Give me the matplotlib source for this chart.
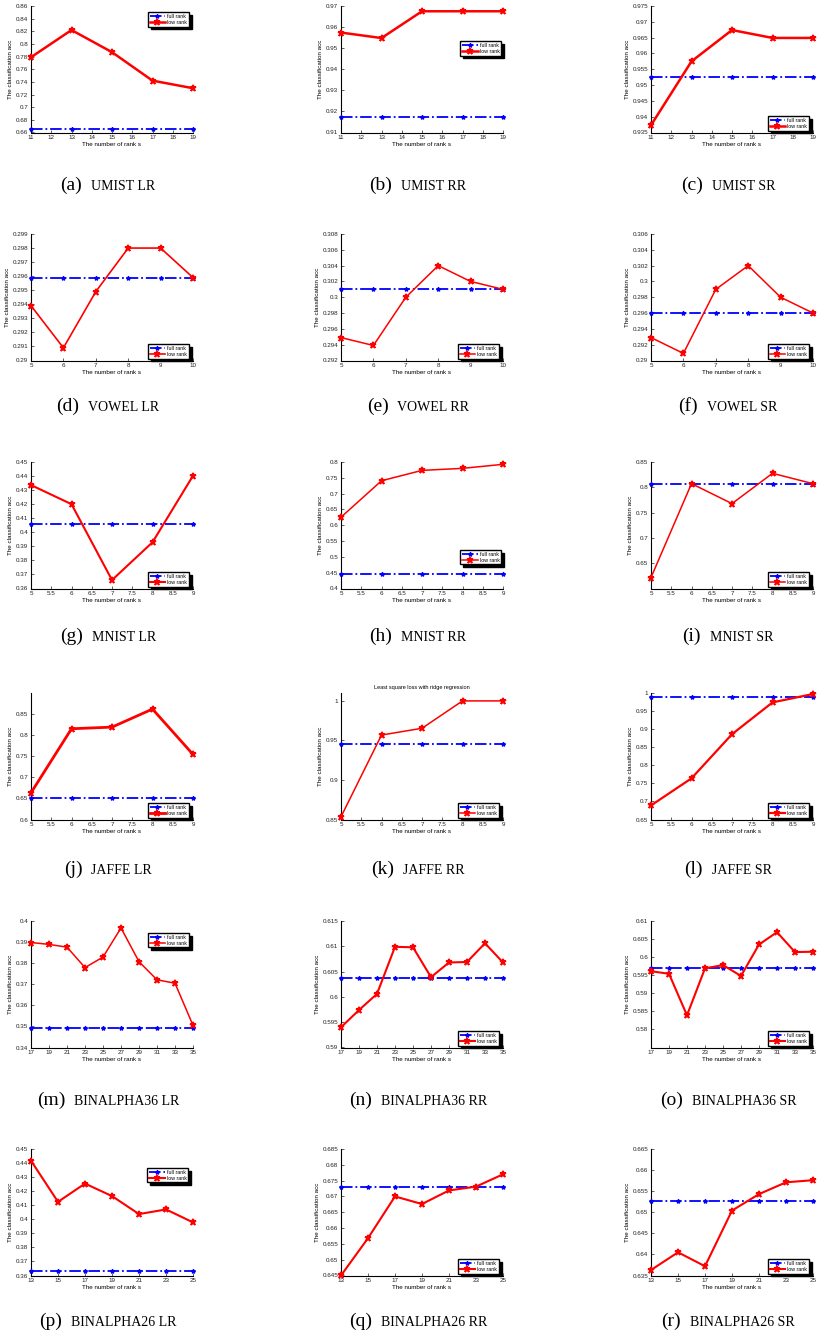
import numpy as np
import matplotlib.pyplot as plt
from matplotlib.ticker import FuncFormatter

plt.rcParams.update({'font.family': ['Liberation Sans', 'DejaVu Sans'], 'font.size': 4.5})

# rank values tried for each data set
umist_x = [11, 13, 15, 17, 19]
vowel_x = [5, 6, 7, 8, 9, 10]
mnist_x = [5, 6, 7, 8, 9]
jaffe_x = [5, 6, 7, 8, 9]
bin36_x = [17, 19, 21, 23, 25, 27, 29, 31, 33, 35]
bin26_x = [13, 15, 17, 19, 21, 23, 25]

# classification accuracy of the low rank models
umist_lr = [0.779, 0.822, 0.787, 0.742, 0.730]
umist_rr = [0.9574, 0.9548, 0.9675, 0.9675, 0.9675]
umist_sr = [0.9373, 0.9575, 0.9674, 0.9649, 0.9649]
vowel_lr = [0.2939, 0.2909, 0.2949, 0.298, 0.298, 0.2959]
vowel_rr = [0.2949, 0.2939, 0.300, 0.304, 0.302, 0.301]
vowel_sr = [0.2929, 0.2909, 0.299, 0.302, 0.298, 0.296]
mnist_lr = [0.4336, 0.420, 0.366, 0.3929, 0.4402]
mnist_rr = [0.6254, 0.7407, 0.7735, 0.7799, 0.7926]
mnist_sr = [0.6217, 0.8072, 0.7678, 0.8276, 0.8072]
jaffe_lr = [0.6633, 0.8152, 0.8191, 0.8619, 0.7543]
jaffe_rr = [0.8534, 0.9568, 0.9654, 1.0, 1.0]
jaffe_sr = [0.6889, 0.7639, 0.886, 0.974, 0.9972]
bin36_lr = [0.3898, 0.3889, 0.3876, 0.3779, 0.3829, 0.3967, 0.3807, 0.3721, 0.3705, 0.3505]
bin36_rr = [0.5940, 0.5974, 0.6006, 0.6099, 0.6098, 0.6039, 0.6068, 0.6069, 0.6106, 0.6068]
bin36_sr = [0.5961, 0.5954, 0.5839, 0.5969, 0.5978, 0.5948, 0.6035, 0.6069, 0.6014, 0.6015]
bin26_lr = [0.4417, 0.4124, 0.4254, 0.4165, 0.4037, 0.407, 0.3978]
bin26_rr = [0.645, 0.6568, 0.670, 0.6676, 0.6719, 0.6731, 0.677]
bin26_sr = [0.6363, 0.6405, 0.6372, 0.6504, 0.6543, 0.6571, 0.6576]

# accuracy of the full rank model (constant over s)
full_rank = [0.665, 0.9174, 0.9524,
             0.2959, 0.301, 0.296,
             0.4062, 0.4455, 0.8072,
             0.6506, 0.9449, 0.9898,
             0.3491, 0.6038, 0.5971,
             0.3633, 0.673, 0.6526]

datasets = ['UMIST', 'VOWEL', 'MNIST', 'JAFFE', 'BINALPHA36', 'BINALPHA26']
losses = ['LR', 'RR', 'SR']
tags = 'abcdefghijklmnopqr'

xs = [umist_x, vowel_x, mnist_x, jaffe_x, bin36_x, bin26_x]
lows = [umist_lr, umist_rr, umist_sr, vowel_lr, vowel_rr, vowel_sr,
        mnist_lr, mnist_rr, mnist_sr, jaffe_lr, jaffe_rr, jaffe_sr,
        bin36_lr, bin36_rr, bin36_sr, bin26_lr, bin26_rr, bin26_sr]

# y range (low, high, tick start, tick stop, step) per panel
yaxes = [(0.66, 0.86, 0.66, 0.86, 0.02), (0.91, 0.97, 0.91, 0.97, 0.01), (0.935, 0.975, 0.935, 0.975, 0.005),
         (0.29, 0.299, 0.29, 0.299, 0.001), (0.292, 0.308, 0.292, 0.308, 0.002), (0.29, 0.306, 0.29, 0.306, 0.002),
         (0.36, 0.45, 0.36, 0.45, 0.01), (0.4, 0.8, 0.4, 0.8, 0.05), (0.6, 0.85, 0.65, 0.85, 0.05),
         (0.6, 0.9, 0.6, 0.85, 0.05), (0.85, 1.01, 0.85, 1.0, 0.05), (0.65, 1.0, 0.65, 1.0, 0.05),
         (0.34, 0.4, 0.34, 0.4, 0.01), (0.59, 0.615, 0.59, 0.615, 0.005), (0.575, 0.61, 0.58, 0.61, 0.005),
         (0.36, 0.45, 0.36, 0.45, 0.01), (0.645, 0.685, 0.645, 0.685, 0.005), (0.635, 0.665, 0.635, 0.665, 0.005)]
xsteps = [1, 1, 0.5, 0.5, 2, 2]

LR_ = ('lower right', (0.975, 0.015))
legend_pos = [('upper right', (0.975, 0.95)), ('upper right', (0.99, 0.72)), LR_,
              LR_, LR_, LR_,
              LR_, ('lower right', (0.99, 0.19)), LR_,
              LR_, LR_, LR_,
              ('upper right', (0.975, 0.905)), LR_, LR_,
              ('upper right', (0.97, 0.85)), LR_, LR_]
red_lw = [1.8, 1.8, 1.8, 1.2, 1.1, 1.1, 1.5, 1.1, 1.1, 2.0, 1.1, 1.6, 1.1, 1.5, 1.5, 1.5, 1.5, 1.5]

W, H = 817, 1341
fig = plt.figure(figsize=(W / 100, H / 100), dpi=100)
col_left = [31, 341, 651]
col_w = 162
row_top = [6, 234, 462, 693, 921, 1149]
row_h = 126.5
cap_base = [190, 411, 641, 874, 1105, 1326]


def fmt(v, pos):
    return f"{v:.4f}".rstrip('0').rstrip('.')


captions = []
for k in range(18):
    r, c = divmod(k, 3)
    ax = fig.add_axes([col_left[c] / W, 1 - (row_top[r] + row_h) / H, col_w / W, row_h / H])
    x = xs[r]
    ax.plot(x, [full_rank[k]] * len(x), color='b', ls='-.', lw=1.3, marker='*', ms=3,
            mew=1.0, label='full rank', clip_on=False, zorder=3)
    ax.plot(x, lows[k], color='r', lw=red_lw[k], marker='*', ms=5, mew=1.2,
            label='low rank', clip_on=False, zorder=4)
    y0, y1, t0, t1, st = yaxes[k]
    ax.set_ylim(y0, y1)
    ax.set_yticks(np.round(np.arange(t0, t1 + st / 2, st), 4))
    ax.set_xlim(x[0], x[-1])
    ax.set_xticks(np.arange(x[0], x[-1] + xsteps[r] / 2, xsteps[r]))
    ax.xaxis.set_major_formatter(FuncFormatter(fmt))
    ax.yaxis.set_major_formatter(FuncFormatter(fmt))
    for s in ('top', 'right'):
        ax.spines[s].set_visible(False)
    for s in ('left', 'bottom'):
        ax.spines[s].set_linewidth(0.8)
    ax.tick_params(direction='in', length=2, width=0.5, labelsize=4.5, pad=2, colors='#222222')
    ax.set_xlabel('The number of rank s', fontsize=4.5, labelpad=1.5)
    ax.set_ylabel('The classification acc', fontsize=4.5, labelpad=2)
    if k == 10:
        ax.set_title('Least square loss with ridge regression', fontsize=4, pad=3)
    loc, anchor = legend_pos[k]
    ax.legend(loc=loc, bbox_to_anchor=anchor, fontsize=3.8, fancybox=False, edgecolor='k',
              framealpha=1, borderpad=0.3, handlelength=3, handletextpad=0.4, labelspacing=0.2,
              borderaxespad=0, shadow={'color': 'k', 'alpha': 1})

    yb = 1 - cap_base[r] / H
    t_tag = fig.text(0, yb, f"({tags[k]})", fontsize=14, family='Liberation Serif', va='baseline')
    t_name = fig.text(0, yb, f"{datasets[r]} {losses[c]}", fontsize=10,
                      family='Liberation Serif', va='baseline')
    captions.append((t_tag, t_name, col_left[c] + col_w / 2 - 4))

# centre each caption under its panel
renderer = fig.canvas.get_renderer()
for t_tag, t_name, cx in captions:
    w1 = t_tag.get_window_extent(renderer).width
    w2 = t_name.get_window_extent(renderer).width
    gap = 9
    x0 = cx - (w1 + gap + w2) / 2
    t_tag.set_x(x0 / W)
    t_name.set_x((x0 + w1 + gap) / W)

fig.savefig('out.png', dpi=100)
